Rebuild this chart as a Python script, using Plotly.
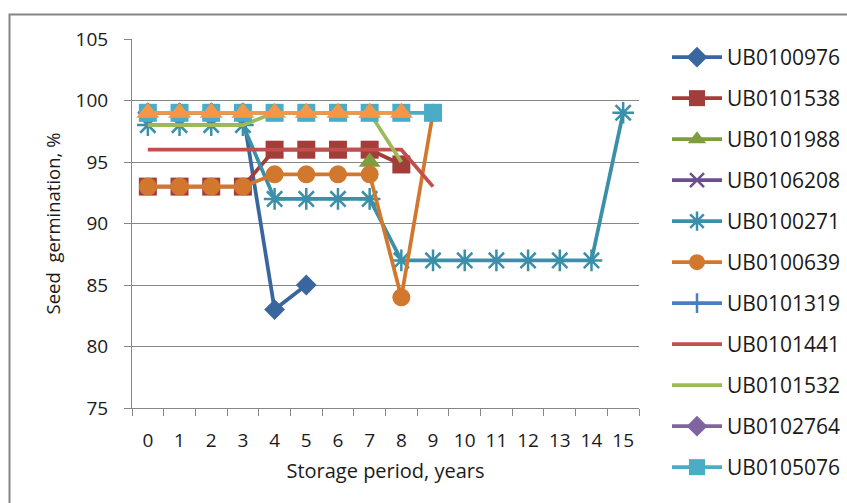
import plotly.graph_objects as go

years = [str(i) for i in range(16)]
y_ticks = [75, 80, 85, 90, 95, 100, 105]

UB0100976 = [99, 99, 99, 99, 83, 85]
UB0101538 = [93, 93, 93, 93, 96, 96, 96, 96, 94.8]
UB0101988 = [None, None, None, None, None, None, None, 95]
UB0106208 = [99, 99, 99, 99]
UB0100271 = [98, 98, 98, 98, 92, 92, 92, 92, 87, 87, 87, 87, 87, 87, 87, 99]
UB0100639 = [93, 93, 93, 93, 94, 94, 94, 94, 84, 99]
UB0101319 = [99, 99, 99, 99]
UB0101441 = [96, 96, 96, 96, 96, 96, 96, 96, 96, 93]
UB0101532 = [98, 98, 98, 98, 99, 99, 99, 99, 95]
UB0102764 = [99, 99, 99, 99]
UB0105076 = [99, 99, 99, 99, 99, 99, 99, 99, 99, 99]
series12 = [99, 99, 99, 99, 99, 99, 99, 99, 99]

series = [
    ("UB0100976", UB0100976, "#3A669F", "diamond", 16, True),
    ("UB0101538", UB0101538, "#A33D3A", "square", 18, True),
    ("UB0101988", UB0101988, "#7E9D3E", "triangle-up", 19, True),
    ("UB0106208", UB0106208, "#6B4F8E", "x-thin-open", 14, True),
    ("UB0100271", UB0100271, "#3A90A8", "asterisk-open", 18, True),
    ("UB0100639", UB0100639, "#D2782E", "circle", 18, True),
    ("UB0101319", UB0101319, "#4A7EBF", "cross-thin-open", 14, True),
    ("UB0101441", UB0101441, "#C0504D", None, 0, True),
    ("UB0101532", UB0101532, "#9BBB59", None, 0, True),
    ("UB0102764", UB0102764, "#8064A2", "diamond", 16, True),
    ("UB0105076", UB0105076, "#4BACC6", "square", 18, True),
    ("UB0105077", series12, "#F79646", "triangle-up", 20, False),
]

fig = go.Figure()
for i, (name, vals, color, sym, size, show) in enumerate(series):
    kw = dict(
        x=years[:len(vals)], y=vals, name=name,
        line=dict(color=color, width=3.75),
        showlegend=show, legendgroup=name,
        connectgaps=False,
    )
    if sym:
        kw["mode"] = "lines+markers"
        mk = dict(symbol=sym, size=size, color=color)
        if "open" in sym:
            mk["line"] = dict(color=color, width=2.5)
        kw["marker"] = mk
    else:
        kw["mode"] = "lines"
    fig.add_trace(go.Scatter(**kw))

L, T, R, B = 132, 39, 639, 408
W, H = 847, 503
pw, ph = R - L, B - T

def px(x):
    return (x - L) / pw

def py(y):
    return (B - y) / ph

font = "Open Sans, Liberation Sans, sans-serif"
fig.update_layout(
    width=W, height=H,
    margin=dict(l=L, r=W - R, t=T, b=H - B, pad=0, autoexpand=False),
    paper_bgcolor="white", plot_bgcolor="white",
    font=dict(family=font, size=19, color="#1a1a1a"),
    showlegend=True,
    legend=dict(
        x=px(667), y=py(37), xanchor="left", yanchor="top",
        font=dict(size=21, color="#1a1a1a"),
        traceorder="grouped", tracegroupgap=10.7,
        itemwidth=50, bgcolor="rgba(0,0,0,0)",
        maxheight=600,
    ),
    xaxis=dict(
        type="category", categoryorder="array", categoryarray=years,
        range=[-0.5, 15.5], tickson="boundaries",
        ticks="outside", ticklen=7, tickcolor="#868686", tickwidth=1,
        showline=True, linecolor="#868686", linewidth=1,
        showgrid=False, zeroline=False,
        tickfont=dict(size=19), ticklabelstandoff=15,
        title=dict(text="Storage period, years", font=dict(size=20), standoff=12),
        fixedrange=True,
    ),
    yaxis=dict(
        range=[75, 105], tickvals=y_ticks, ticktext=[str(v) for v in y_ticks],
        ticks="outside", ticklen=7, tickcolor="#868686", tickwidth=1,
        showline=True, linecolor="#868686", linewidth=1,
        showgrid=True, gridcolor="#868686", gridwidth=1,
        zeroline=False, ticklabelstandoff=12,
        tickfont=dict(size=19),
        title=dict(text="Seed\u00a0\u00a0germination, %", font=dict(size=18.5), standoff=10),
        fixedrange=True,
    ),
    shapes=[dict(
        type="rect", xref="paper", yref="paper",
        x0=px(9.5), x1=px(900), y0=py(560), y1=py(14.5),
        line=dict(color="#868686", width=2), fillcolor="rgba(0,0,0,0)",
        layer="below",
    )],
)

fig.write_html("out.html", config={"displayModeBar": False},
               post_script="document.body.style.margin='0';")
